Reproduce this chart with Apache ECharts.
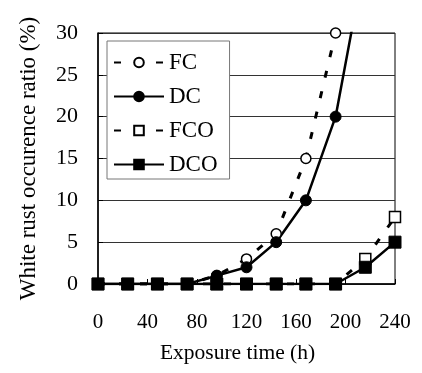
<!DOCTYPE html>
<html>
<head>
<meta charset="utf-8">
<script src="https://cdn.jsdelivr.net/npm/echarts@6/dist/echarts.min.js"></script>
<style>html,body{margin:0;padding:0;background:#fff;}#c{width:422px;height:373px;}</style>
</head>
<body>
<div id="c"></div>
<script>
var times = [0, 24, 48, 72, 96, 120, 144, 168, 192, 216, 240];
var fc  = [0, 0, 0, 0, 1, 3, 6, 15, 30, null, null];
var dc  = [0, 0, 0, 0, 1, 2, 5, 10, 20, 39, null];
var fco = [0, 0, 0, 0, 0, 0, 0, 0, 0, 3, 8];
var dco = [0, 0, 0, 0, 0, 0, 0, 0, 0, 2, 5];
var xTicks = [0, 40, 80, 120, 160, 200, 240];
var yTicks = [0, 5, 10, 15, 20, 25, 30];

function pairs(v) { return times.map(function (t, i) { return [t, v[i]]; }); }
var FONT = '"Liberation Serif", "Times New Roman", serif';
var chart = echarts.init(document.getElementById('c'));
var dash = [7, 14];
chart.setOption({
  animation: false,
  backgroundColor: '#fff',
  grid: { left: 98, right: 27, top: 33, bottom: 89, show: true, borderColor: '#000', borderWidth: 1, backgroundColor: 'transparent' },
  legend: {
    orient: 'vertical', left: 107, top: 41,
    padding: [10, 12, 3, 6],
    itemWidth: 50, itemHeight: 12, itemGap: 11,
    backgroundColor: '#fff', borderColor: '#777', borderWidth: 1,
    textStyle: { fontFamily: FONT, fontSize: 23, color: '#000', lineHeight: 23 },
    data: ['FC', 'DC', 'FCO', 'DCO']
  },
  xAxis: {
    type: 'value', min: xTicks[0], max: xTicks[xTicks.length - 1], interval: 40,
    name: 'Exposure time (h)', nameLocation: 'middle', nameGap: 58,
    nameTextStyle: { fontFamily: FONT, fontSize: 21.5, color: '#000', padding: [0, 18, 0, 0] },
    axisLine: { lineStyle: { color: '#000', width: 1.5 } },
    axisTick: { inside: true, length: 5, lineStyle: { color: '#000' } },
    axisLabel: { fontFamily: FONT, fontSize: 21, color: '#000', margin: 28 },
    splitLine: { show: false }
  },
  yAxis: {
    type: 'value', min: yTicks[0], max: yTicks[yTicks.length - 1], interval: 5,
    name: 'White rust occurence ratio (%)', nameLocation: 'middle', nameGap: 58,
    nameTextStyle: { fontFamily: FONT, fontSize: 23, color: '#000' },
    axisLine: { show: true, lineStyle: { color: '#000', width: 1.5 } },
    axisTick: { show: true, inside: true, length: 5, lineStyle: { color: '#000' } },
    axisLabel: { fontFamily: FONT, fontSize: 22, color: '#000', margin: 20 },
    splitLine: { show: true, lineStyle: { color: '#333', width: 1 } }
  },
  series: [
    { name: 'FC', type: 'line', data: pairs(fc), clip: true,
      symbol: 'circle', symbolSize: 10,
      lineStyle: { color: '#000', width: 3, type: dash },
      itemStyle: { color: '#fff', borderColor: '#000', borderWidth: 1.5 } },
    { name: 'DC', type: 'line', data: pairs(dc), clip: true,
      symbol: 'circle', symbolSize: 11,
      lineStyle: { color: '#000', width: 2.5 },
      itemStyle: { color: '#000', borderColor: '#000', borderWidth: 1 } },
    { name: 'FCO', type: 'line', data: pairs(fco), clip: true,
      symbol: 'rect', symbolSize: 11,
      lineStyle: { color: '#000', width: 3, type: dash },
      itemStyle: { color: '#fff', borderColor: '#000', borderWidth: 1.5 } },
    { name: 'DCO', type: 'line', data: pairs(dco), clip: true,
      symbol: 'rect', symbolSize: 12,
      lineStyle: { color: '#000', width: 2.5 },
      itemStyle: { color: '#000', borderColor: '#000', borderWidth: 1 } }
  ]
});
</script>
</body>
</html>
